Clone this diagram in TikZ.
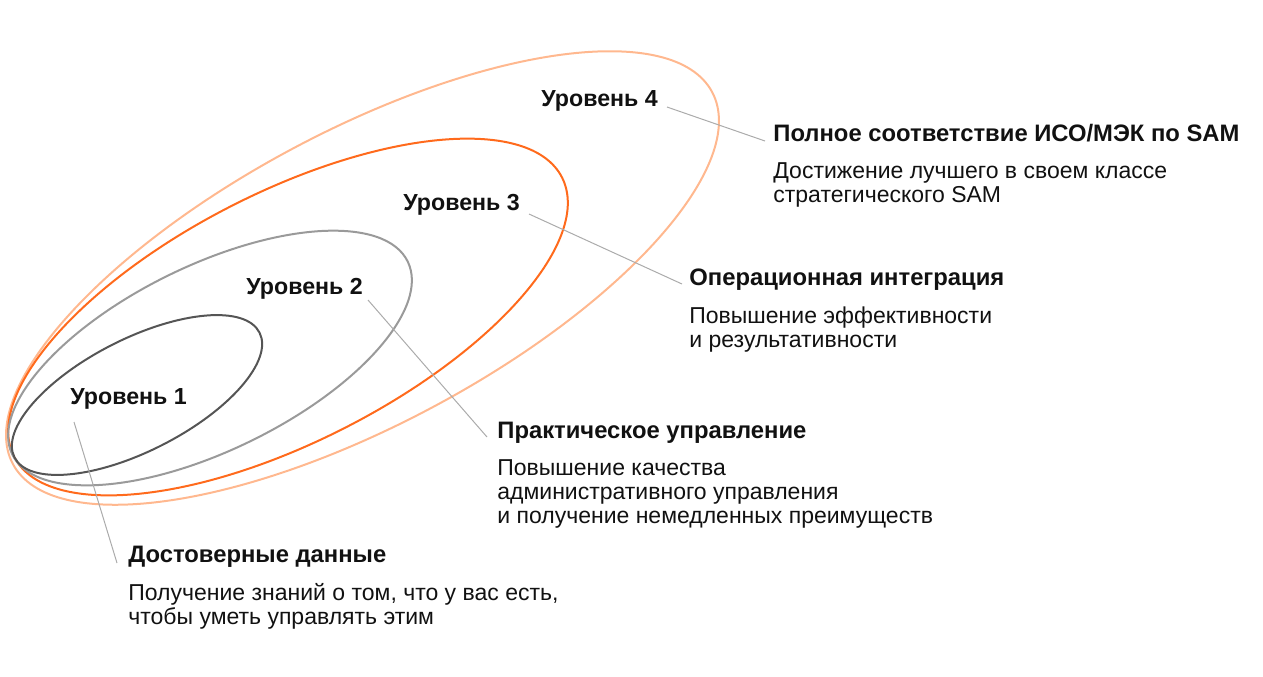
\documentclass[tikz,border=0pt]{standalone}
\usepackage{fontspec}
\setmainfont{Liberation Sans}
\usepackage{xcolor}
\usetikzlibrary{positioning,calc}
\definecolor{ringDark}{HTML}{555555}
\definecolor{ringGray}{HTML}{9A9A9A}
\definecolor{ringOrange}{HTML}{FF6A1C}
\definecolor{ringPeach}{HTML}{FFB88F}
\definecolor{leadGray}{HTML}{ABABAB}
\definecolor{inkText}{HTML}{111111}
\tikzset{
  ring/.style={line width=1pt},
  levelLabel/.style={anchor=base west, inner sep=0pt, font=\bfseries\fontsize{11.6}{13}\selectfont, text=inkText},
  titleText/.style={anchor=base west, inner sep=0pt, font=\bfseries\fontsize{11.9}{13}\selectfont, text=inkText},
  descText/.style={anchor=north west, inner sep=0pt, align=left, font=\fontsize{11.5}{12}\selectfont, text=inkText},
  leaderLine/.style={draw=leadGray, line width=0.5pt}
}
\begin{document}
\begin{tikzpicture}[x=0.5pt, y=-0.5pt]
  \useasboundingbox (0,0) rectangle (1263,676);

  % nested rings
  \draw[ring, draw=ringPeach, rotate around={28:(362.5,278)}] (362.5,278) ellipse [x radius=396, y radius=147];
  \draw[ring, draw=ringOrange, rotate around={27:(288,317)}] (288,317) ellipse [x radius=307.5, y radius=124.6];
  \draw[ring, draw=ringGray, rotate around={26:(210,358)}] (210,358) ellipse [x radius=220, y radius=92.5];
  \draw[ring, draw=ringDark, rotate around={27:(137,395)}] (137,395) ellipse [x radius=137.5, y radius=56];

  % level labels
  \node[levelLabel] (lvl4) at (541,106) {Уровень 4};
  \node[levelLabel] (lvl3) at (403,210) {Уровень 3};
  \node[levelLabel] (lvl2) at (246,294) {Уровень 2};
  \node[levelLabel] (lvl1) at (70,404) {Уровень 1};

  % titles and descriptions
  \node[titleText] (ttl4) at (773,141) {Полное соответствие ИСО/МЭК по SAM};
  \node[descText, below=10.5pt of ttl4.base west, anchor=north west] (dsc4) {Достижение лучшего в своем классе\\стратегического SAM};
  \node[titleText] (ttl3) at (689,285) {Операционная интеграция};
  \node[descText, below=10.5pt of ttl3.base west, anchor=north west] (dsc3) {Повышение эффективности\\и результативности};
  \node[titleText] (ttl2) at (497,438) {Практическое управление};
  \node[descText, below=10.5pt of ttl2.base west, anchor=north west] (dsc2) {Повышение качества\\административного управления\\и получение немедленных преимуществ};
  \node[titleText] (ttl1) at (128,562) {Достоверные данные};
  \node[descText, below=10.5pt of ttl1.base west, anchor=north west] (dsc1) {Получение знаний о том, что у вас есть,\\чтобы уметь управлять этим};

  % leader ends
  \coordinate (l4a) at (667,107);
  \coordinate (l4b) at (765,141);
  \coordinate (l3a) at (529,214);
  \coordinate (l3b) at (682,284);
  \coordinate (l2a) at (368,300);
  \coordinate (l2b) at (487,437);
  \coordinate (l1a) at (74,422);
  \coordinate (l1b) at (117,563);

  \draw[leaderLine] (l4a) -- (l4b);
  \draw[leaderLine] (l3a) -- (l3b);
  \draw[leaderLine] (l2a) -- (l2b);
  \draw[leaderLine] (l1a) -- (l1b);
\end{tikzpicture}
\end{document}
